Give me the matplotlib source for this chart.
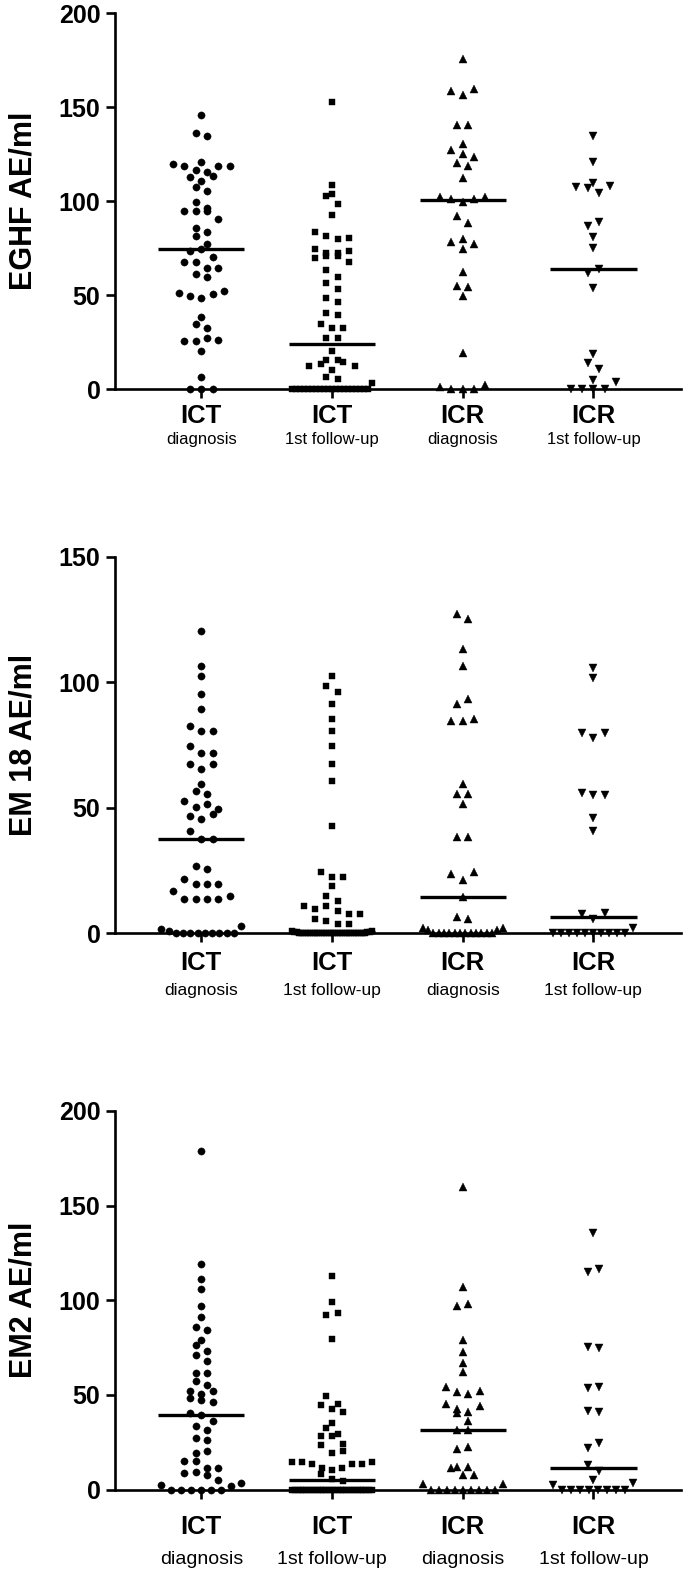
import numpy as np
import matplotlib
matplotlib.use('Agg')
import matplotlib.pyplot as plt
from matplotlib.transforms import blended_transform_factory, offset_copy

plt.rcParams['font.family'] = ['Liberation Sans', 'DejaVu Sans']

# ---------------- data ----------------
categories = ['ICT', 'ICT', 'ICR', 'ICR']
subcategories = ['diagnosis', '1st follow-up', 'diagnosis', '1st follow-up']
markers = ['o', 's', '^', 'v']

eghf_ict_dx = [145.7, 136.5, 134.8, 119.7, 119.0, 116.7, 115.6, 118.8, 118.8, 120.7,
               112.8, 110.6, 113.7, 107.4, 105.7, 99.6, 96.6, 94.7, 94.7, 94.7,
               90.6, 85.6, 83.7, 81.6, 77.5, 73.8, 74.6, 70.6, 67.6, 67.6,
               64.5, 64.5, 61.5, 59.6, 51.4, 49.5, 48.4, 50.5, 52.5, 38.5,
               34.9, 32.4, 25.5, 25.5, 27.5, 26.4, 20.6, 6.4, 0, 0, 0]
eghf_ict_fu = [152.8, 108.9, 102.7, 103.7, 98.8, 92.7, 83.7, 81.6, 79.8, 80.7,
               74.6, 72.7, 70.0, 70.9, 70.9, 67.7, 72.7, 73.8, 63.7, 59.6,
               56.6, 53.5, 48.6, 46.6, 40.4, 39.5, 34.6, 32.4, 32.4, 27.5,
               27.5, 20.6, 15.4, 12.6, 13.5, 10.5, 14.5, 12.6, 15.4, 6.4,
               3.4, 5.3] + [0] * 20
eghf_icr_dx = [175.5, 158.9, 156.4, 159.6, 140.4, 140.4, 130.5, 127.5, 125.4, 123.4,
               120.4, 118.6, 112.6, 102.3, 101.4, 99.5, 101.4, 102.3, 92.4, 88.5,
               78.5, 74.5, 77.3, 80.1, 62.2, 55.1, 54.4, 49.5, 19.5, 2.1,
               1.4, 0, 0, 0]
eghf_icr_fu = [134.9, 120.9, 107.8, 106.9, 104.3, 108.2, 109.9, 86.7, 88.8, 80.9,
               75.0, 61.7, 63.8, 53.9, 18.8, 13.8, 11.0, 3.9, 5.0, 0, 0, 0, 0]

em18_ict_dx = [120.4, 106.5, 102.4, 95.5, 89.4, 82.5, 80.4, 80.4, 74.5, 71.7,
               71.7, 67.5, 65.5, 67.5, 59.5, 56.6, 55.6, 52.5, 50.5, 51.6,
               49.6, 46.6, 45.5, 47.6, 40.6, 37.7, 37.7, 26.7, 25.7, 21.7,
               19.8, 19.8, 19.8, 16.8, 13.8, 13.8, 13.8, 13.8, 14.8, 2.9,
               1.9, 1.0] + [0] * 9
em18_ict_fu = [102.4, 98.4, 96.3, 91.5, 85.4, 80.6, 74.5, 67.5, 60.6, 42.6,
               24.6, 22.6, 22.6, 18.7, 14.7, 12.8, 10.8, 9.8, 10.8, 8.9,
               7.8, 7.8, 5.8, 4.9, 3.8, 3.8, 1.0, 0.8, 0.6, 0.6,
               0.5, 0.5] + [0] * 30
em18_icr_dx = [127.2, 125.3, 113.4, 106.3, 91.5, 93.4, 84.4, 84.4, 85.3, 59.4,
               55.4, 55.4, 51.5, 38.5, 38.5, 23.5, 21.4, 24.5, 14.6, 6.6,
               5.6, 2.0, 1.5, 2.2, 1.5] + [0] * 12
em18_icr_fu = [105.7, 101.6, 79.8, 77.8, 79.8, 55.8, 54.9, 54.9, 45.9, 40.9,
               7.5, 5.8, 8.2, 2.1] + [0] * 10

em2_ict_dx = [179.0, 119.2, 111.1, 106.2, 97.2, 91.2, 86.1, 84.3, 79.0, 76.1,
              73.2, 71.1, 68.1, 61.3, 61.3, 57.2, 55.3, 52.1, 50.4, 52.1,
              48.2, 47.4, 46.1, 40.3, 39.3, 36.3, 33.3, 31.3, 27.3, 26.2,
              19.5, 20.4, 15.3, 15.3, 11.4, 11.4, 8.5, 9.3, 7.4, 5.1,
              3.3, 2.5, 2.1] + [0] * 6
em2_ict_fu = [113.0, 99.3, 92.3, 93.1, 79.4, 49.3, 44.7, 45.4, 42.6, 40.7,
              35.4, 32.4, 28.3, 28.3, 29.4, 23.4, 24.3, 19.5, 20.4, 14.4,
              14.4, 13.4, 11.4, 10.4, 11.4, 13.4, 13.4, 14.4, 8.3, 5.6,
              4.5] + [0] * 29
em2_icr_dx = [160.0, 106.9, 97.2, 97.9, 79.0, 72.9, 67.1, 62.0, 54.0, 51.4,
              50.4, 52.1, 45.1, 42.4, 40.3, 41.2, 44.2, 36.3, 31.2, 31.2,
              21.5, 22.2, 12.1, 11.3, 12.1, 7.4, 7.4, 3.0, 3.0] + [0] * 9
em2_icr_fu = [135.4, 114.8, 116.5, 75.5, 74.6, 53.5, 54.4, 41.5, 40.7, 21.8,
              24.5, 13.0, 10.0, 5.1, 3.3, 2.5] + [0] * 8

ylabels = ['EGHF AE/ml', 'EM 18 AE/ml', 'EM2 AE/ml']
yticks_list = [[0, 50, 100, 150, 200], [0, 50, 100, 150], [0, 50, 100, 150, 200]]
groups_list = [[eghf_ict_dx, eghf_ict_fu, eghf_icr_dx, eghf_icr_fu],
               [em18_ict_dx, em18_ict_fu, em18_icr_dx, em18_icr_fu],
               [em2_ict_dx, em2_ict_fu, em2_icr_dx, em2_icr_fu]]

# ---------------- layout (pixels) ----------------
FW, FH = 689, 1574
LEFT, RIGHT = 115, 681
panel_px = [(13.3, 389.3), (556.7, 933.3), (1111.0, 1489.5)]
cat_pad = [3.8, 6.1, 11.7]      # points
sub_off = [50, 57, 70]          # pixels below axis
sub_size = [12, 12.5, 14]
XMIN, XMAX = -0.66, 3.67

fig = plt.figure(figsize=(FW / 100, FH / 100), dpi=100)


def swarm(vals, ppx, ppy, S=11.3, Hb=8.0, Wpx=40.0):
    """GraphPad-like scatter: group values into horizontal rows of height Hb (px),
    spread each row symmetrically with spacing S, compressed to +-Wpx."""
    vals = np.asarray(vals, float)
    xs = np.zeros(len(vals))
    order = np.argsort(vals, kind='stable')
    rows, cur, start = [], [], None
    for i in order:
        y = vals[i] * ppy
        if cur and (y - start) >= Hb:
            rows.append(cur)
            cur = []
        if not cur:
            start = y
        cur.append(i)
    if cur:
        rows.append(cur)
    for r in rows:
        n = len(r)
        if n > 1 and (n - 1) * S > 2 * Wpx:
            offs = np.linspace(-Wpx, Wpx, n)
        else:
            offs = (np.arange(n) - (n - 1) / 2) * S
        if any(vals[j] == 0 for j in r):
            # zeros in the middle, small non-zero values pushed to the row ends
            pos = sorted(range(n), key=lambda k: (abs(offs[k]), offs[k] > 0))
            pts = sorted(r, key=lambda j: vals[j])
            for k, j in zip(pos, pts):
                xs[j] = offs[k]
        else:
            xs[sorted(r)] = offs
    return xs / ppx


for p in range(3):
    top, bot = panel_px[p]
    ax = fig.add_axes([LEFT / FW, 1 - bot / FH, (RIGHT - LEFT) / FW, (bot - top) / FH])
    yt = yticks_list[p]
    ax.set_xlim(XMIN, XMAX)
    ax.set_ylim(0, yt[-1])
    ppx = (RIGHT - LEFT) / (XMAX - XMIN)
    ppy = (bot - top) / yt[-1]
    for i, vals in enumerate(groups_list[p]):
        off = swarm(vals, ppx, ppy)
        ms = {'o': 5.2, 's': 4.8, '^': 5.3, 'v': 5.3}[markers[i]]
        ax.plot(i + off, vals, linestyle='none', marker=markers[i], ms=ms,
                color='black', mew=0.3, clip_on=False, zorder=3)
        med = np.median(vals)
        ax.plot([i - 0.33, i + 0.33], [med, med], color='black', lw=2.4,
                solid_capstyle='butt', clip_on=False, zorder=4)
    for s in ['top', 'right']:
        ax.spines[s].set_visible(False)
    for s in ['left', 'bottom']:
        ax.spines[s].set_linewidth(1.9)
    ax.set_yticks(yt)
    ax.set_yticklabels([str(t) for t in yt], fontweight='bold', fontsize=18)
    ax.set_xticks(range(4))
    ax.set_xticklabels(categories, fontweight='bold', fontsize=18.5)
    ax.tick_params(axis='y', length=6.5, width=1.9, pad=4.0)
    ax.tick_params(axis='x', length=6.5, width=1.9, pad=cat_pad[p])
    ax.set_ylabel(ylabels[p], fontsize=22, fontweight='bold')
    ax.yaxis.set_label_coords(-(LEFT - 23.5) / (RIGHT - LEFT), 0.5)
    ax.yaxis.label.set_verticalalignment('center')
    tr = offset_copy(blended_transform_factory(ax.transData, ax.transAxes), fig=fig,
                     y=-sub_off[p], units='dots')
    for i, s in enumerate(subcategories):
        ax.text(i, 0, s, transform=tr, ha='center', va='center', fontsize=sub_size[p])

fig.savefig('out.png', dpi=100)
